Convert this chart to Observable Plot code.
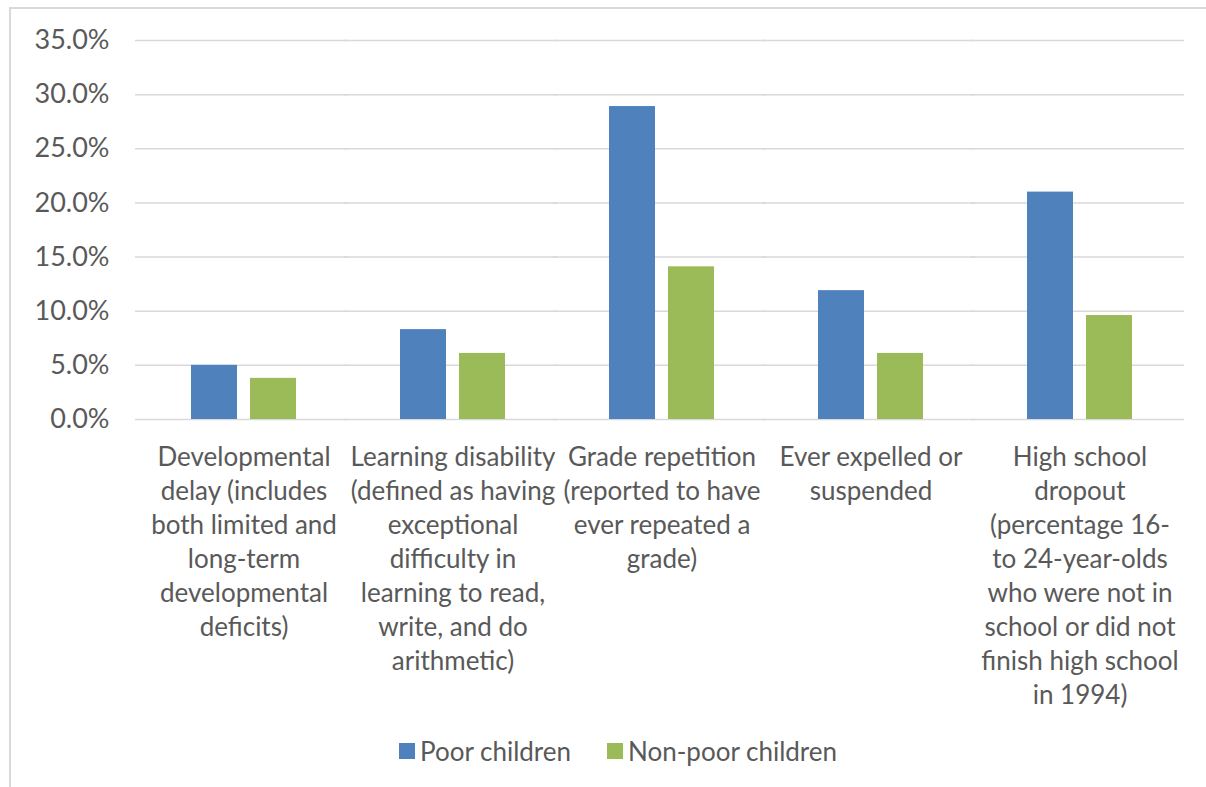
<!DOCTYPE html>
<html>
<head>
<meta charset="utf-8">
<script src="https://cdn.jsdelivr.net/npm/d3@7"></script>
<script src="https://cdn.jsdelivr.net/npm/@observablehq/plot@0.6"></script>
<style>
  html, body { margin: 0; padding: 0; background: #fff; width: 1206px; height: 787px; overflow: hidden; }
  #frame { position: absolute; left: 9px; top: 7px; width: 1197px; height: 780px;
           border-left: 2px solid #d9d9d9; border-top: 2px solid #d9d9d9; box-sizing: border-box; }
  #chart { position: absolute; left: 0; top: 0; }
  #legend { position: absolute; top: 735px; left: 0; width: 1206px; display: flex; justify-content: center;
            font-family: Lato, "Open Sans", sans-serif; font-size: 26px; color: #595959; gap: 36px; padding-left: 30px; box-sizing: border-box; }
  .item { display: flex; align-items: center; gap: 5px; }
  .sw { width: 16px; height: 16px; display: inline-block; }
</style>
</head>
<body>
<div id="frame"></div>
<div id="chart"></div>
<div id="legend"></div>
<script>
const categories = [
  "Developmental\ndelay (includes\nboth limited and\nlong-term\ndevelopmental\ndeficits)",
  "Learning disability\n(defined as having\nexceptional\ndifficulty in\nlearning to read,\nwrite, and do\narithmetic)",
  "Grade repetition\n(reported to have\never repeated a\ngrade)",
  "Ever expelled or\nsuspended",
  "High school\ndropout\n(percentage 16-\nto 24-year-olds\nwho were not in\nschool or did not\nfinish high school\nin 1994)"
];
const seriesNames = ["Poor children", "Non-poor children"];
const poor = [5.0, 8.3, 28.9, 11.9, 21.0];
const nonPoor = [3.8, 6.1, 14.1, 6.1, 9.6];
const colors = ["#4f81bd", "#9bbb59"];
const yTicks = [0, 5, 10, 15, 20, 25, 30, 35];

const data = [];
categories.forEach((c, i) => {
  data.push({category: c, series: seriesNames[0], value: poor[i]});
  data.push({category: c, series: seriesNames[1], value: nonPoor[i]});
});

const font = "Lato, 'Open Sans', sans-serif";
const plot = Plot.plot({
  width: 1206,
  height: 730,
  marginLeft: 137,
  marginRight: 21,
  marginTop: 40,
  marginBottom: 311,
  style: {fontFamily: font, color: "#595959", background: "transparent", overflow: "visible"},
  fx: {domain: categories, padding: 0, label: null},
  x: {domain: seriesNames, paddingInner: 0.217, paddingOuter: 0.862, axis: null},
  y: {domain: [0, 35], ticks: yTicks, label: null},
  color: {domain: seriesNames, range: colors},
  marks: [
    Plot.ruleY(yTicks, {stroke: "#d9d9d9", strokeWidth: 1.5, insetLeft: -4}),
    Plot.barY(data, {fx: "category", x: "series", y: "value", fill: "series"}),
    Plot.axisY(yTicks, {tickSize: 0, tickPadding: 30, fontSize: 27, tickFormat: d => d.toFixed(1) + "%", fill: "#595959"}),
    Plot.axisFx({anchor: "bottom", tickSize: 0, tickPadding: 22, fontSize: 26, lineHeight: 1.31, fill: "#595959", label: null})
  ]
});
document.getElementById("chart").appendChild(plot);

const legend = document.getElementById("legend");
seriesNames.forEach((s, i) => {
  const item = document.createElement("div");
  item.className = "item";
  const sw = document.createElement("span");
  sw.className = "sw";
  sw.style.background = colors[i];
  const t = document.createElement("span");
  t.textContent = s;
  item.appendChild(sw);
  item.appendChild(t);
  legend.appendChild(item);
});
</script>
</body>
</html>
